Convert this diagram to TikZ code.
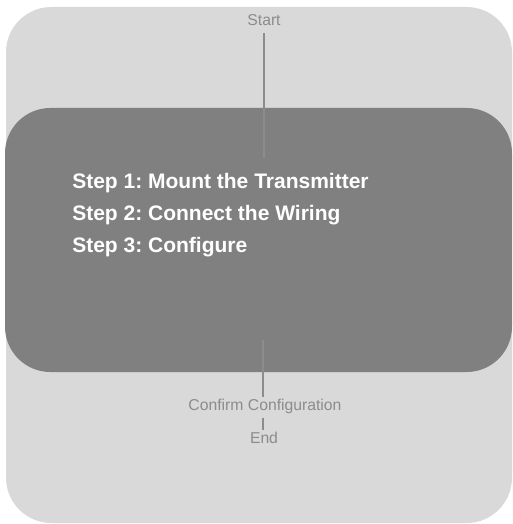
\documentclass[tikz,border=0pt]{standalone}
\usepackage{fontspec}
\setmainfont{Liberation Sans}
\frenchspacing

\definecolor{sfondo}{HTML}{D9D9D9}
\definecolor{riquadro}{HTML}{808080}
\definecolor{linea}{HTML}{8C8C8C}
\definecolor{testo}{HTML}{8C8C8C}

\begin{document}
\begin{tikzpicture}[x=0.75pt,y=-0.75pt,
        etichetta/.style={inner sep=1pt,anchor=base,text=testo,font=\fontsize{11.8}{14}\selectfont},
        passo/.style={inner sep=0pt,anchor=base west,text=white,font=\fontsize{15.75}{18}\selectfont\bfseries},
        collegamento/.style={draw=linea,line width=2.1pt}]

        % Area della pagina
        \useasboundingbox (0,0) rectangle (512,524);

        % Sfondo chiaro e riquadro scuro centrale
        \fill[sfondo,rounded corners=34pt] (6,7) rectangle (512,523);
        \fill[riquadro,rounded corners=34pt] (5,108) rectangle (512,372);

        % Testi
        \node[etichetta] (start) at (264,26) {Start};
        \node[passo] (step1) at (72,188) {Step 1: Mount the Transmitter};
        \node[passo] (step2) at (72,220) {Step 2: Connect the Wiring};
        \node[passo] (step3) at (72,252) {Step 3: Configure};
        \node[etichetta] (confirm) at (265,410) {Confirm Configuration};
        \node[etichetta] (end) at (264,443) {End};

        % Estremi liberi delle linee dentro il riquadro
        \coordinate (entrata) at (264,158);
        \coordinate (uscita) at (263,340);

        % Linee di collegamento
        \draw[collegamento,shorten <=4pt] (start.south -| entrata) -- (entrata);
        \draw[collegamento] (uscita) -- (uscita |- confirm.north);
        \draw[collegamento,shorten <=2pt] (confirm.south -| uscita) -- (end.north -| uscita);

    \end{tikzpicture}
\end{document}
